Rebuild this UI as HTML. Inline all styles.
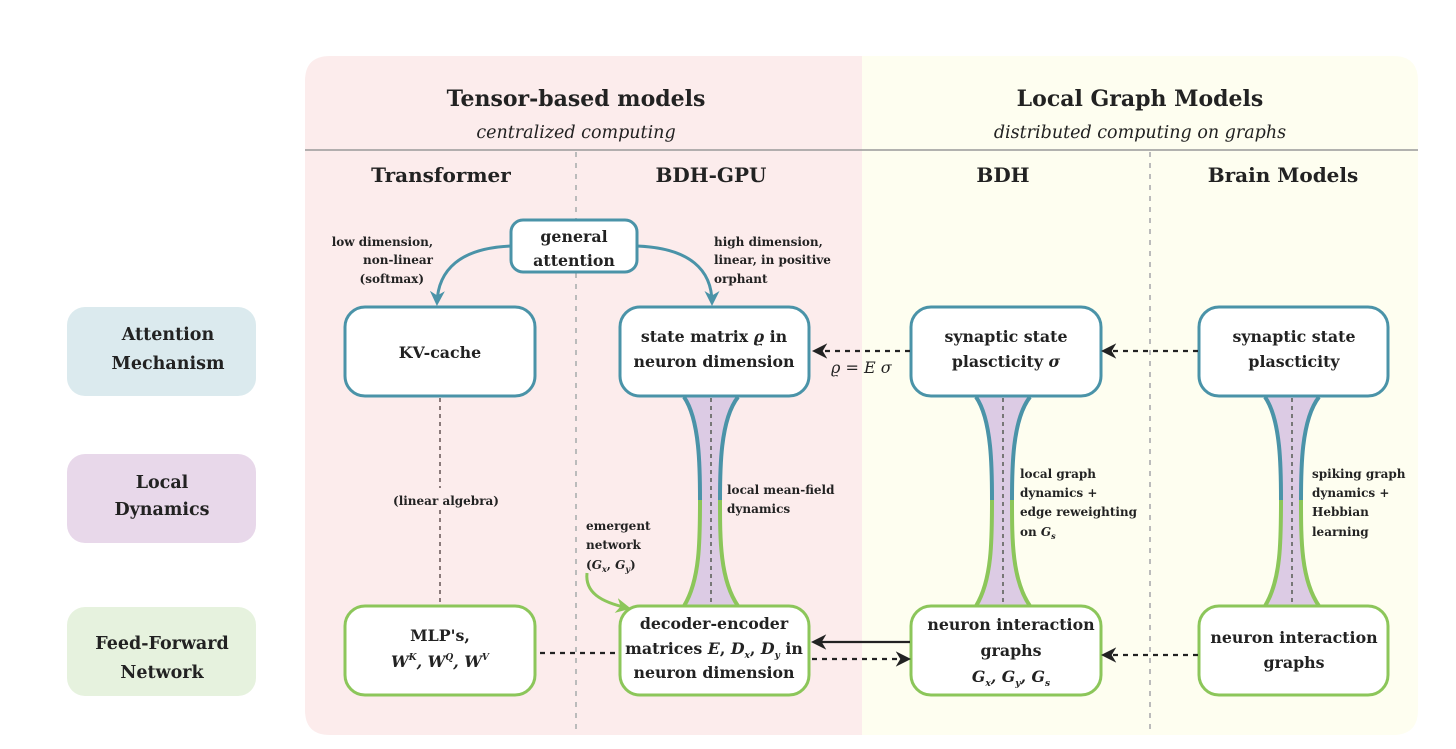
<!DOCTYPE html>
<html><head><meta charset="utf-8"><style>
html,body{margin:0;padding:0;background:#fff}
svg{display:block}
text{font-family:"DejaVu Serif","Liberation Serif",serif;fill:#222}
.b{font-weight:bold}
</style></head><body>
<svg width="1456" height="749" viewBox="0 0 1456 749" xmlns="http://www.w3.org/2000/svg">
<defs>
<marker id="ab" viewBox="0 0 10 10" refX="8" refY="5" markerWidth="5" markerHeight="5" orient="auto"><path d="M0,0 L10,5 L0,10 L3,5z" fill="#4a93a8"/></marker>
<marker id="ag" viewBox="0 0 10 10" refX="8" refY="5" markerWidth="5" markerHeight="5" orient="auto"><path d="M0,0 L10,5 L0,10 L3,5z" fill="#8cc65a"/></marker>
<marker id="ak" viewBox="0 0 10 10" refX="8" refY="5" markerWidth="7" markerHeight="7" orient="auto"><path d="M0,0 L10,5 L0,10 L3,5z" fill="#222"/></marker>
</defs>
<path d="M330,56 H862 V735 H330 Q305,735 305,710 V81 Q305,56 330,56Z" fill="#fcecec"/>
<path d="M862,56 H1393 Q1418,56 1418,81 V710 Q1418,735 1393,735 H862Z" fill="#fefef0"/>
<line x1="305" y1="150" x2="1418" y2="150" stroke="#999" stroke-width="1.5"/>
<line x1="576" y1="152" x2="576" y2="735" stroke="#bbb" stroke-width="2" stroke-dasharray="5,6"/>
<line x1="1150" y1="152" x2="1150" y2="735" stroke="#bbb" stroke-width="2" stroke-dasharray="5,6"/>
<text x="576" y="106" font-size="22" text-anchor="middle" class="b">Tensor-based models</text>
<text x="576" y="138" font-size="17.5" text-anchor="middle" font-style="italic">centralized computing</text>
<text x="1140" y="106" font-size="22" text-anchor="middle" class="b">Local Graph Models</text>
<text x="1140" y="138" font-size="17.5" text-anchor="middle" font-style="italic">distributed computing on graphs</text>
<text x="441" y="182" font-size="20" text-anchor="middle" class="b">Transformer</text>
<text x="711" y="182" font-size="20" text-anchor="middle" class="b">BDH-GPU</text>
<text x="1003" y="182" font-size="20" text-anchor="middle" class="b">BDH</text>
<text x="1283" y="182" font-size="20" text-anchor="middle" class="b">Brain Models</text>
<rect x="67" y="307" width="189" height="89" rx="18" fill="#dbeaee"/>
<rect x="67" y="454" width="189" height="89" rx="18" fill="#e8d8ea"/>
<rect x="67" y="607" width="189" height="89" rx="18" fill="#e6f2de"/>
<g font-size="17.5" text-anchor="middle">
<text x="168" y="340" class="b">Attention</text><text x="168" y="369" class="b">Mechanism</text>
<text x="162" y="488" class="b">Local</text><text x="162" y="515" class="b">Dynamics</text>
<text x="162" y="649" class="b">Feed-Forward</text><text x="162" y="678" class="b">Network</text>
</g>
<g id="hg">
<path d="M684,397 C700,420 700,470 700,500 C700,540 700,580 684,606 L738,606 C720,580 720,540 720,500 C720,470 720,420 738,397Z" fill="#dccbe4"/>
<path d="M684,397 C700,420 700,470 700,500" fill="none" stroke="#4a93a8" stroke-width="4"/>
<path d="M738,397 C720,420 720,470 720,500" fill="none" stroke="#4a93a8" stroke-width="4"/>
<path d="M700,500 C700,540 700,580 684,606" fill="none" stroke="#8cc65a" stroke-width="4"/>
<path d="M720,500 C720,540 720,580 738,606" fill="none" stroke="#8cc65a" stroke-width="4"/>
<line x1="711" y1="398" x2="711" y2="605" stroke="#777" stroke-width="2" stroke-dasharray="4,4"/>
</g>
<use href="#hg" transform="translate(292,0)"/>
<use href="#hg" transform="translate(581,0)"/>
<line x1="440" y1="398" x2="440" y2="605" stroke="#8a7a7a" stroke-width="2" stroke-dasharray="4,4"/>
<rect x="388" y="488" width="114" height="22" fill="#fcecec"/>
<text x="446" y="505" font-size="12" text-anchor="middle" class="b">(linear  algebra)</text>
<g fill="#fff" stroke-width="3">
<rect x="345" y="307" width="190" height="89" rx="20" stroke="#4a93a8"/>
<rect x="620" y="307" width="189" height="89" rx="20" stroke="#4a93a8"/>
<rect x="911" y="307" width="190" height="89" rx="20" stroke="#4a93a8"/>
<rect x="1199" y="307" width="189" height="89" rx="20" stroke="#4a93a8"/>
<rect x="345" y="606" width="190" height="89" rx="20" stroke="#8cc65a"/>
<rect x="620" y="606" width="189" height="89" rx="20" stroke="#8cc65a"/>
<rect x="911" y="606" width="190" height="89" rx="20" stroke="#8cc65a"/>
<rect x="1199" y="606" width="189" height="89" rx="20" stroke="#8cc65a"/>
<rect x="511" y="220" width="126" height="52" rx="12" stroke="#4a93a8"/>
</g>
<g font-size="15.8" text-anchor="middle">
<text x="574" y="242" class="b">general</text><text x="574" y="266" class="b">attention</text>
<text x="440" y="358" class="b">KV-cache</text>
<text x="714" y="342" class="b">state matrix <tspan font-style="italic">ϱ</tspan> in</text><text x="714" y="367" class="b">neuron dimension</text>
<text x="1006" y="342" class="b">synaptic state</text><text x="1006" y="367" class="b">plascticity <tspan font-style="italic">σ</tspan></text>
<text x="1294" y="342" class="b">synaptic state</text><text x="1294" y="367" class="b">plascticity</text>
<text x="440" y="641" class="b">MLP's,</text>
<text x="440" y="667" class="b" font-style="italic">W<tspan font-size="9" dy="-7">K</tspan><tspan dy="7">, W</tspan><tspan font-size="9" dy="-7">Q</tspan><tspan dy="7">, W</tspan><tspan font-size="9" dy="-7">V</tspan></text>
<text x="714" y="629" class="b">decoder-encoder</text>
<text x="714" y="654" class="b">matrices <tspan font-style="italic">E</tspan>, <tspan font-style="italic">D<tspan font-size="9" dy="4">x</tspan></tspan><tspan dy="-4">, </tspan><tspan font-style="italic">D<tspan font-size="9" dy="4">y</tspan></tspan><tspan dy="-4"> in</tspan></text>
<text x="714" y="678" class="b">neuron dimension</text>
<text x="1011" y="630" class="b">neuron interaction</text>
<text x="1011" y="656" class="b">graphs</text>
<text x="1011" y="682" class="b" font-style="italic">G<tspan font-size="9" dy="4">x</tspan><tspan dy="-4">, G</tspan><tspan font-size="9" dy="4">y</tspan><tspan dy="-4">, G</tspan><tspan font-size="9" dy="4">s</tspan></text>
<text x="1294" y="643" class="b">neuron interaction</text>
<text x="1294" y="668" class="b">graphs</text>
</g>
<path d="M511,246 C460,248 438,270 437,303" fill="none" stroke="#4a93a8" stroke-width="3" marker-end="url(#ab)"/>
<path d="M637,246 C690,248 712,270 712,303" fill="none" stroke="#4a93a8" stroke-width="3" marker-end="url(#ab)"/>
<g font-size="12">
<text x="433" y="246" text-anchor="end" class="b">low dimension,</text>
<text x="433" y="264" text-anchor="end" class="b">non-linear</text>
<text x="424" y="283" text-anchor="end" class="b">(softmax)</text>
<text x="714" y="246" class="b">high dimension,</text>
<text x="714" y="264" class="b">linear, in positive</text>
<text x="714" y="283" class="b">orphant</text>
<text x="727" y="494" class="b">local mean-field</text>
<text x="727" y="513" class="b">dynamics</text>
<text x="586" y="530" class="b">emergent</text>
<text x="586" y="549" class="b">network</text>
<text x="586" y="569" class="b">(<tspan font-style="italic">G<tspan font-size="8" dy="3">x</tspan></tspan><tspan dy="-3">, </tspan><tspan font-style="italic">G<tspan font-size="8" dy="3">y</tspan></tspan><tspan dy="-3">)</tspan></text>
<text x="1020" y="478" class="b">local graph</text>
<text x="1020" y="497" class="b">dynamics +</text>
<text x="1020" y="516" class="b">edge reweighting</text>
<text x="1020" y="536" class="b">on <tspan font-style="italic">G<tspan font-size="8" dy="3">s</tspan></tspan></text>
<text x="1312" y="478" class="b">spiking graph</text>
<text x="1312" y="497" class="b">dynamics +</text>
<text x="1312" y="516" class="b">Hebbian</text>
<text x="1312" y="536" class="b">learning</text>
</g>
<path d="M587,573 C585,592 600,602 628,608" fill="none" stroke="#8cc65a" stroke-width="3" marker-end="url(#ag)"/>
<g stroke="#222" stroke-width="2.2" fill="none">
<line x1="910" y1="351" x2="815" y2="351" stroke-dasharray="5,5" marker-end="url(#ak)"/>
<line x1="1198" y1="351" x2="1104" y2="351" stroke-dasharray="5,5" marker-end="url(#ak)"/>
<line x1="1198" y1="655" x2="1104" y2="655" stroke-dasharray="5,5" marker-end="url(#ak)"/>
<line x1="910" y1="642" x2="814" y2="642" marker-end="url(#ak)"/>
<line x1="812" y1="659" x2="908" y2="659" stroke-dasharray="5,5" marker-end="url(#ak)"/>
<line x1="540" y1="653" x2="619" y2="653" stroke-dasharray="5,5"/>
</g>
<text x="831" y="373" font-size="16" font-style="italic">ϱ = E σ</text>
</svg>
</body></html>
